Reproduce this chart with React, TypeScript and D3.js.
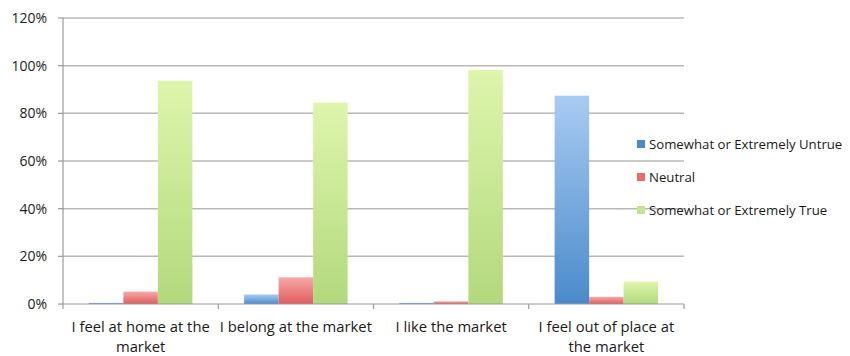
import React from "react";
import * as d3 from "d3";

const categories = [
  ["I feel at home at the", "market"],
  ["I belong at the market"],
  ["I like the market"],
  ["I feel out of place at", "the market"],
];
const seriesNames = [
  "Somewhat or Extremely Untrue",
  "Neutral",
  "Somewhat or Extremely True",
];
const untrue = [0.5, 4, 0.5, 87.4];
const neutral = [5.2, 11.2, 1.1, 3];
const trueVals = [93.7, 84.5, 98.2, 9.4];
const yTicks = [0, 20, 40, 60, 80, 100, 120];

const seriesValues = [untrue, neutral, trueVals];
const gradients = [
  ["#a9cbf2", "#4a8acb"],
  ["#f7a9a9", "#e05c5c"],
  ["#def5ac", "#b2d97d"],
];
const legendColors = ["#4a8acb", "#e86a6a", "#c3e490"];

export default function App() {
  const W = 850, H = 356;
  const left = 63, right = 684, top = 18, bottom = 304;
  const x = d3.scaleBand<number>().domain(d3.range(categories.length)).range([left, right]);
  const inner = d3
    .scaleBand<number>()
    .domain(d3.range(3))
    .range([0, x.bandwidth()])
    .paddingInner(0)
    .paddingOuter(0.75);
  const y = d3.scaleLinear().domain([0, 120]).range([bottom, top]);
  const font = "'Open Sans', 'DejaVu Sans', sans-serif";

  return (
    <svg width={W} height={H} style={{ position: "absolute", left: 0, top: 0 }}>
      <defs>
        {gradients.map((g, i) => (
          <linearGradient key={i} id={`g${i}`} x1="0" y1="0" x2="0" y2="1">
            <stop offset="0%" stopColor={g[0]} />
            <stop offset="100%" stopColor={g[1]} />
          </linearGradient>
        ))}
      </defs>
      <rect width={W} height={H} fill="#fff" />
      {yTicks.map((t) => (
        <g key={t}>
          {t > 0 && (
            <line x1={left} x2={right} y1={y(t)} y2={y(t)} stroke="#b8b8b8" strokeWidth={1.5} />
          )}
          <line x1={left - 5} x2={left} y1={y(t)} y2={y(t)} stroke="#999" strokeWidth={1.2} />
          <text
            x={47}
            y={y(t) + 5}
            textAnchor="end"
            fontSize={14}
            fontFamily={font}
            fill="#222"
          >
            {t}%
          </text>
        </g>
      ))}
      {categories.map((c, ci) => (
        <g key={ci}>
          {seriesValues.map((vals, si) => {
            const bx = (x(ci) as number) + (inner(si) as number);
            const v = vals[ci];
            return (
              <rect
                key={si}
                x={bx}
                y={y(v)}
                width={inner.bandwidth()}
                height={bottom - y(v)}
                fill={`url(#g${si})`}
              />
            );
          })}
          {c.map((line, li) => (
            <text
              key={li}
              x={(x(ci) as number) + x.bandwidth() / 2}
              y={332 + li * 20}
              textAnchor="middle"
              fontSize={14.8}
              fontFamily={font}
              fill="#1a1a1a"
            >
              {line}
            </text>
          ))}
        </g>
      ))}
      {d3.range(categories.length + 1).map((i) => {
        const xx = left + i * x.bandwidth();
        return <line key={i} x1={xx} x2={xx} y1={bottom} y2={bottom + 5} stroke="#999" strokeWidth={1.2} />;
      })}
      <line x1={left} x2={left} y1={top} y2={bottom} stroke="#999" strokeWidth={1.2} />
      <line x1={left} x2={right} y1={bottom} y2={bottom} stroke="#999" strokeWidth={1.2} />
      {seriesNames.map((n, i) => (
        <g key={n} transform={`translate(637, ${144 + i * 33})`}>
          <rect x={0} y={-4} width={8} height={8} fill={legendColors[i]} />
          <text x={12} y={4.5} fontSize={13.2} fontFamily={font} fill="#1a1a1a">
            {n}
          </text>
        </g>
      ))}
    </svg>
  );
}
